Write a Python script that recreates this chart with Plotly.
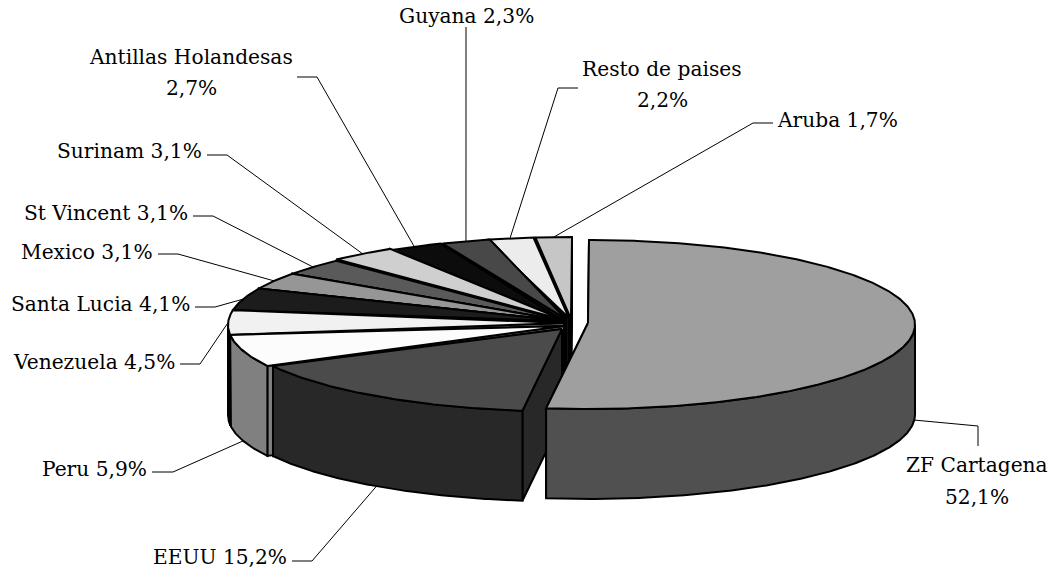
import math
import plotly.graph_objects as go

# ---- data ----
labels = ["ZF Cartagena", "EEUU", "Peru", "Venezuela", "Santa Lucia", "Mexico",
          "St Vincent", "Surinam", "Antillas Holandesas", "Guyana", "Resto de paises", "Aruba"]
shares = [52.1, 15.2, 5.9, 4.5, 4.1, 3.1, 3.1, 3.1, 2.7, 2.3, 2.2, 1.7]
value_text = ["52,1%", "15,2%", "5,9%", "4,5%", "4,1%", "3,1%", "3,1%", "3,1%", "2,7%", "2,3%", "2,2%", "1,7%"]

# ---- style ----
top_colors = ["#9f9f9f", "#4b4b4b", "#fcfcfc", "#f1f1f1", "#1c1c1c", "#969696",
              "#5a5a5a", "#cfcfcf", "#0c0c0c", "#484848", "#ececec", "#c6c6c6"]
side_colors = ["#505050", "#282828", "#808080", "#808080", "#0e0e0e", "#4b4b4b",
               "#2d2d2d", "#676767", "#060606", "#242424", "#111111", "#111111"]

# ---- projection of the pie (ellipse centre x, y, radii, apex x, y) per slice ----
MAIN = (571, 325, 343, 88, 564, 321)
geom = [
    (589, 324.5, 326, 84.5, 588, 323),
    (566, 326.5, 331, 85, 562, 329),
    (571, 325, 343, 88, 564, 326),
    (571, 325, 343, 88, 564, 323),
    MAIN, MAIN, MAIN,
    (572, 323.5, 343, 88, 564, 320),
    MAIN,
    (573, 325, 343, 88, 566, 319),
    (570, 325, 343, 88, 569, 318),
    (572, 325, 343, 88, 571, 319),
]
DEPTH = 90
LINE = dict(color="black", width=2)
FONT_SIZE = 20.2

# ---- label layout: text lines (x, y, anchor) and leader elbows ----
text_layout = {
    "ZF Cartagena": [("ZF Cartagena", 977, 465, "center"), ("52,1%", 977, 497, "center")],
    "EEUU": [("EEUU 15,2%", 287, 557, "right")],
    "Peru": [("Peru 5,9%", 147, 469, "right")],
    "Venezuela": [("Venezuela 4,5%", 175, 362, "right")],
    "Santa Lucia": [("Santa Lucia 4,1%", 190, 304, "right")],
    "Mexico": [("Mexico 3,1%", 153, 252, "right")],
    "St Vincent": [("St Vincent 3,1%", 188, 213, "right")],
    "Surinam": [("Surinam 3,1%", 202, 151, "right")],
    "Antillas Holandesas": [("Antillas Holandesas", 191, 57, "center"), ("2,7%", 191, 88, "center")],
    "Guyana": [("Guyana 2,3%", 466, 16, "center")],
    "Resto de paises": [("Resto de paises", 662, 69, "center"), ("2,2%", 662, 100, "center")],
    "Aruba": [("Aruba 1,7%", 777, 120, "left")],
}
leaders = {
    "ZF Cartagena": [(978, 446), (978, 426)],
    "EEUU": [(292, 561), (312, 561)],
    "Peru": [(152, 472), (173, 472)],
    "Venezuela": [(180, 364), (200, 364)],
    "Santa Lucia": [(195, 307), (215, 307)],
    "Mexico": [(158, 254), (178, 254)],
    "St Vincent": [(193, 216), (213, 216)],
    "Surinam": [(207, 155), (227, 155)],
    "Antillas Holandesas": [(297, 77), (317, 77)],
    "Guyana": [(466, 27), (466, 28)],
    "Resto de paises": [(578, 88), (558, 88)],
    "Aruba": [(773, 123), (753, 123)],
}
FRONT = {"ZF Cartagena", "EEUU", "Peru"}


def rim(g, deg):
    a = math.radians(deg)
    return g[0] + g[2] * math.sin(a), g[1] - g[3] * math.cos(a)


def arc(g, a0, a1):
    n = max(3, int(abs(a1 - a0) * 2))
    return [rim(g, a0 + (a1 - a0) * i / n) for i in range(n + 1)]


fig = go.Figure()


def poly(pts, color):
    xs = [p[0] for p in pts] + [pts[0][0]]
    ys = [p[1] for p in pts] + [pts[0][1]]
    fig.add_trace(go.Scatter(x=xs, y=ys, mode="lines", fill="toself", fillcolor=color,
                             line=LINE, hoverinfo="skip", showlegend=False))


# slice angles, clockwise from 12 o'clock
total = sum(shares)
angles = []
c = 0.0
for s in shares:
    angles.append((c / total * 360, (c + s) / total * 360))
    c += s


def drop(p):
    return (p[0], p[1] + DEPTH)


# painter's order: back slices first, ZF Cartagena last
for i in range(len(shares) - 1, -1, -1):
    g = geom[i]
    a0, a1 = angles[i]
    apex = (g[4], g[5])
    for ang in (a1, a0):
        r = rim(g, ang)
        poly([apex, r, drop(r), drop(apex)], side_colors[i])
    if a0 < 270 and a1 > 90:
        lo, hi = max(a0, 90), min(a1, 270)
        front = arc(g, lo, hi)
        poly(front + [drop(p) for p in reversed(front)], side_colors[i])
    poly([apex] + arc(g, a0, a1), top_colors[i])

# leaders and labels
for i, name in enumerate(labels):
    g = geom[i]
    mid = sum(angles[i]) / 2
    end = rim(g, mid)
    if name in FRONT:
        end = drop(end)
    pts = leaders[name] + [end]
    fig.add_trace(go.Scatter(x=[p[0] for p in pts], y=[p[1] for p in pts], mode="lines",
                             line=dict(color="black", width=1), hoverinfo="skip", showlegend=False))
    for txt, x, y, anchor in text_layout[name]:
        fig.add_annotation(x=x, y=y, text=txt, showarrow=False, xanchor=anchor, yanchor="middle",
                           font=dict(family="DejaVu Serif", size=FONT_SIZE, color="black"),
                           xref="x", yref="y", borderpad=0, borderwidth=0)

fig.update_layout(
    width=1050, height=569, margin=dict(l=0, r=0, t=0, b=0),
    paper_bgcolor="white", plot_bgcolor="white", showlegend=False,
    xaxis=dict(range=[0, 1050], visible=False, fixedrange=True),
    yaxis=dict(range=[569, 0], visible=False, fixedrange=True),
)
fig.write_html("out.html", config={"displayModeBar": False},
               post_script="document.body.style.margin='0';document.documentElement.style.overflow='hidden';")
